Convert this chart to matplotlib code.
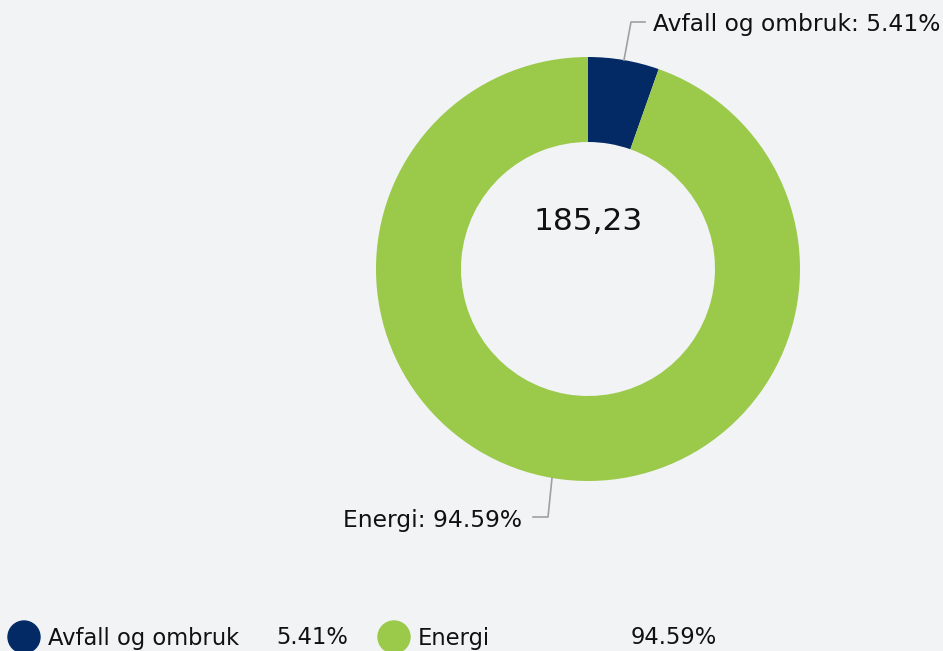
import matplotlib
matplotlib.use("Agg")
import matplotlib.pyplot as plt
from matplotlib.patches import Circle

categories = ["Avfall og ombruk", "Energi"]
shares = [5.41, 94.59]
total_label = "185,23"
colors = ["#042a66", "#9bc94a"]

W, H = 943, 651
fig = plt.figure(figsize=(W / 100, H / 100), dpi=100)
bg = "#f1f3f5"
fig.patch.set_facecolor(bg)
ax = fig.add_axes([0, 0, 1, 1])
ax.set_facecolor(bg)

cx, cy, R = 588, 269, 212
# y axis is inverted below, so counterclockwise in data = clockwise on screen
ax.pie(shares, colors=colors, startangle=-90, counterclock=True,
       radius=R, center=(cx, cy), frame=True,
       wedgeprops=dict(width=85, edgecolor="none"))
ax.set_xlim(0, W)
ax.set_ylim(H, 0)
ax.set_aspect("equal")
ax.axis("off")

ax.text(cx, 222, total_label, ha="center", va="center", fontsize=22.5,
        color="#111111")

# leader lines + labels
lc = "#a0a0a0"
ax.plot([624, 631, 645], [60, 22, 22], color=lc, lw=1.2, clip_on=False)
ax.text(653, 24, f"{categories[0]}: {shares[0]:.2f}%", ha="left", va="center",
        fontsize=16.8, color="#111111")
ax.plot([552, 548, 533], [478, 517, 517], color=lc, lw=1.2, clip_on=False)
ax.text(522, 520, f"{categories[1]}: {shares[1]:.2f}%", ha="right", va="center",
        fontsize=16.8, color="#111111")

# legend
ly = 637
leg_items = [(24, 48, 348), (394, 418, 717)]
for (ccx, tx, vx), name, val, col in zip(leg_items, categories, shares, colors):
    ax.add_patch(Circle((ccx, ly), 16, color=col, clip_on=False))
    ax.text(tx, ly + 1, name, ha="left", va="center", fontsize=16.3, color="#111111")
    ax.text(vx, ly + 1, f"{val:.2f}%", ha="right", va="center", fontsize=16.3, color="#111111")

fig.savefig("out.png", dpi=100, facecolor=bg)
